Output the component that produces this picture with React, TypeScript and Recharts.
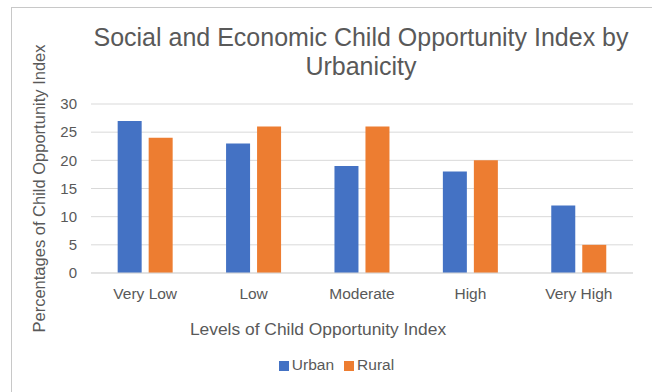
import { BarChart, Bar, XAxis, YAxis, CartesianGrid, Legend } from 'recharts'

const levels = ['Very Low', 'Low', 'Moderate', 'High', 'Very High']
const urban = [27, 23, 19, 18, 12]
const rural = [24, 26, 26, 20, 5]
const yTicks = [0, 5, 10, 15, 20, 25, 30]
const seriesNames = ['Urban', 'Rural']
const seriesColors = ['#4472C4', '#ED7D31']

const data = levels.map((level, i) => ({ level, Urban: urban[i], Rural: rural[i] }))

const font = '"Liberation Sans", Arial, Helvetica, sans-serif'
const textColor = '#595959'

function LegendContent() {
  return (
    <div style={{ display: 'flex', justifyContent: 'center', paddingLeft: 91, paddingRight: 51, paddingTop: 3 }}>
      {seriesNames.map((name, i) => (
        <span key={name} style={{ display: 'flex', alignItems: 'center', marginRight: i === 0 ? 10 : 0 }}>
          <span style={{ width: 10, height: 10, background: seriesColors[i], marginRight: 3, marginTop: 2 }} />
          <span style={{ fontSize: 15.5, color: textColor, fontFamily: font }}>{name}</span>
        </span>
      ))}
    </div>
  )
}

export default function App() {
  return (
    <div
      style={{
        position: 'absolute',
        left: 0,
        top: 0,
        width: 652,
        height: 392,
        background: '#fff',
        fontFamily: font,
      }}
    >
      <div
        style={{
          position: 'absolute',
          left: 11,
          top: 7,
          width: 640,
          height: 400,
          borderLeft: '1px solid #c8c8c8',
          borderTop: '1px solid #c8c8c8',
          borderRight: '1px solid #e4e4e4',
        }}
      />
      <div
        style={{
          position: 'absolute',
          left: 70,
          width: 582,
          top: 23,
          textAlign: 'center',
          fontSize: 25,
          lineHeight: '29px',
          color: textColor,
        }}
      >
        Social and Economic Child Opportunity Index by
        <br />
        Urbanicity
      </div>
      <BarChart
        width={652}
        height={392}
        data={data}
        margin={{ top: 104, right: 19, bottom: 0, left: 0 }}
        barGap={7}
        barCategoryGap="24.6%"
        style={{ position: 'absolute', left: 0, top: 0 }}
      >
        <CartesianGrid vertical={false} stroke="#d9d9d9" strokeWidth={1} />
        <XAxis
          dataKey="level"
          height={80}
          tickLine={false}
          axisLine={{ stroke: '#d9d9d9' }}
          tick={{ fill: textColor, fontSize: 15.5, fontFamily: font }}
          tickMargin={9}
          label={{
            value: 'Levels of Child Opportunity Index',
            position: 'insideBottom',
            offset: 18,
            dx: -44,
            fill: textColor,
            fontSize: 17.4,
            fontFamily: font,
          }}
        />
        <YAxis
          width={91}
          domain={[0, 30]}
          ticks={yTicks}
          interval={0}
          tickLine={false}
          axisLine={false}
          tickMargin={8}
          tick={{ fill: textColor, fontSize: 15, fontFamily: font }}
          label={{
            value: 'Percentages of Child Opportunity Index',
            angle: -90,
            position: 'insideLeft',
            offset: 39,
            style: { textAnchor: 'middle' },
            fill: textColor,
            fontSize: 16.5,
            fontFamily: font,
          }}
        />
        <Legend verticalAlign="bottom" height={39} content={LegendContent} />
        <Bar dataKey="Urban" fill={seriesColors[0]} isAnimationActive={false} />
        <Bar dataKey="Rural" fill={seriesColors[1]} isAnimationActive={false} />
      </BarChart>
    </div>
  )
}
